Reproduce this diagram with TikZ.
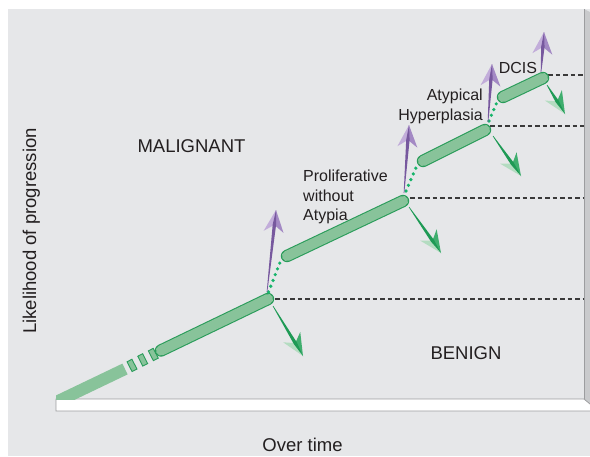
\documentclass[tikz,border=0pt]{standalone}
\usepackage{fontspec}
\setmainfont{Liberation Sans}
\usetikzlibrary{calc}
\definecolor{panel}{HTML}{E6E7E9}
\definecolor{wall}{HTML}{C9CACC}
\definecolor{edge}{HTML}{9C9D9F}
\definecolor{barfill}{HTML}{88C39A}
\definecolor{barline}{HTML}{2A9C5A}
\definecolor{dotc}{HTML}{16B46A}
\definecolor{gdark}{HTML}{1E9A55}
\definecolor{gmid}{HTML}{3FAE6E}
\definecolor{glight}{HTML}{B4DCC1}
\definecolor{pdark}{HTML}{77589E}
\definecolor{plight}{HTML}{C2ADDA}
\definecolor{pmid}{HTML}{A389C4}
\definecolor{txt}{HTML}{231F20}
\definecolor{dashc}{HTML}{3A3A3A}
\newcommand\fancyarrow[5]{%
  \coordinate (fa-b) at ($(#2)!22pt!(#1)$);
  \coordinate (fa-i) at ($(#2)!15pt!(#1)$);
  \fill[#4] (#2) -- ($(fa-b)!10pt!90:(#2)$) -- (fa-i) -- cycle;
  \fill[#5] (#2) -- ($(fa-b)!10pt!-90:(#2)$) -- (fa-i) -- cycle;
  \fill[#3] ($(#1)!0.3pt!90:(#2)$) -- ($(fa-i)!1.7pt!90:(#2)$) -- (#2)
    -- ($(fa-i)!1.7pt!-90:(#2)$) -- ($(#1)!0.3pt!-90:(#2)$) -- cycle;
}
\tikzset{
  bar/.style={draw=barline, line width=1.1pt, double=barfill, double distance=10.2pt},
  dashpiece/.style={draw=barline, line width=0.9pt, fill=barfill, minimum width=5.5pt, minimum height=11pt, inner sep=0pt, rotate=27},
  dotline/.style={dotc, line width=3.6pt, line cap=round, dash pattern=on 0pt off 6.2pt},
  level/.style={dashc, line width=1.1pt, dash pattern=on 4.5pt off 3pt},
  bigtxt/.style={font=\fontsize{18.5}{22}\selectfont, text=txt, inner sep=0pt},
  lbl/.style={font=\fontsize{16}{19.3}\selectfont, text=txt, inner sep=0pt},
}
\begin{document}
\begin{tikzpicture}[x=1pt,y=-1pt]
\useasboundingbox (0,0) rectangle (590,456);
% panel and 3D box
\fill[panel] (8,9) rectangle (590,456);
\fill[wall] (584,9) -- (590,12) -- (590,404) -- (584,399) -- cycle;
\draw[edge, line width=0.8pt] (584,9) -- (584,399);
\fill[white] (56,399) -- (584,399) -- (590,404) -- (590,411) -- (56,411) -- cycle;
\draw[edge, line width=0.8pt] (590,404) -- (584,399) -- (56,399) -- (56,411) -- (590,411);
% coordinates
\coordinate (s1a) at (52,404);
\coordinate (s1b) at (125,369);
\coordinate (s2a) at (161,350.5);
\coordinate (s2b) at (268,299);
\coordinate (s3a) at (287,256);
\coordinate (s3b) at (403,201);
\coordinate (s4a) at (423,161);
\coordinate (s4b) at (485,130);
\coordinate (s5a) at (503,97);
\coordinate (s5b) at (543,78);
\coordinate (wall) at (584,0);
% level lines
\coordinate (h1) at (275,299);
\coordinate (h2) at (410,198);
\coordinate (h3) at (490,126);
\coordinate (h4) at (548,75);
\draw[level] (h1) -- (h1 -| wall);
\draw[level] (h2) -- (h2 -| wall);
\draw[level] (h3) -- (h3 -| wall);
\draw[level] (h4) -- (h4 -| wall);
% first bar piece
\begin{scope}
  \clip (56,0) rectangle (590,399);
  \draw[barfill, line width=12pt] (s1a) -- (s1b);
\end{scope}
\node[dashpiece] (d1) at (132,365.4) {};
\node[dashpiece] (d2) at (142.7,359.9) {};
\node[dashpiece] (d3) at (153.3,354.5) {};
\draw[bar, line cap=round] (s2a) -- (s2b);
\draw[bar, line cap=round] (s3a) -- (s3b);
\draw[bar, line cap=round] (s4a) -- (s4b);
\draw[bar, line cap=round] (s5a) -- (s5b);
% dotted transitions
\coordinate (t1a) at (268.5,292);
\coordinate (t1b) at (281,260);
\coordinate (t2a) at (406,191);
\coordinate (t2b) at (418,163);
\coordinate (t3a) at (489,121);
\coordinate (t3b) at (497,102);
\draw[dotline] (t1a) -- (t1b);
\draw[dotline] (t2a) -- (t2b);
\draw[dotline] (t3a) -- (t3b);
% purple arrows
\coordinate (pt1) at (267,292); \coordinate (pp1) at (276,210);
\coordinate (pt2) at (404,193); \coordinate (pp2) at (409,125);
\coordinate (pt3) at (488,122); \coordinate (pp3) at (492,64);
\coordinate (pt4) at (541,72);  \coordinate (pp4) at (544,32);
\fancyarrow{pt1}{pp1}{pdark}{plight}{pmid}
\fancyarrow{pt2}{pp2}{pdark}{plight}{pmid}
\fancyarrow{pt3}{pp3}{pdark}{plight}{pmid}
\fancyarrow{pt4}{pp4}{pdark}{plight}{pmid}
% green arrows
\coordinate (gt1) at (273,306); \coordinate (gp1) at (303,356);
\coordinate (gt2) at (409,207); \coordinate (gp2) at (441,253);
\coordinate (gt3) at (493,136); \coordinate (gp3) at (521,176);
\coordinate (gt4) at (547,85);  \coordinate (gp4) at (565,114);
\fancyarrow{gt1}{gp1}{gdark}{gmid}{glight}
\fancyarrow{gt2}{gp2}{gdark}{gmid}{glight}
\fancyarrow{gt3}{gp3}{gdark}{gmid}{glight}
\fancyarrow{gt4}{gp4}{gdark}{gmid}{glight}
% texts
\node[bigtxt, anchor=base] (mal) at (191.5,152) {MALIGNANT};
\node[bigtxt, anchor=base] (ben) at (466,359) {BENIGN};
\node[bigtxt, anchor=base] (time) at (302.5,451) {Over time};
\node[bigtxt, anchor=base, rotate=90] (ylab) at (36,231) {Likelihood of progression};
\node[lbl, align=left, anchor=north west] (prolif) at (303,170) {Proliferative\\without\\Atypia};
\node[lbl, align=right, anchor=north east] (atyp) at (483,89) {Atypical\\Hyperplasia};
\node[lbl, anchor=base] (dcis) at (518,73) {DCIS};
\end{tikzpicture}
\end{document}
